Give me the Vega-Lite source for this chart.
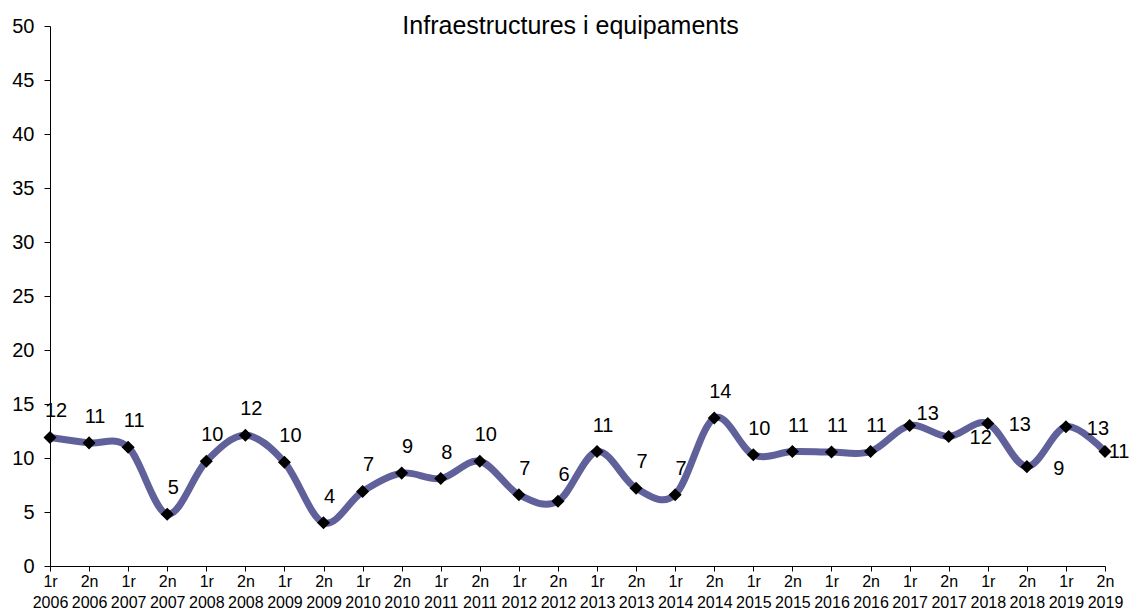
{
  "$schema": "https://vega.github.io/schema/vega-lite/v6.json",
  "width": 1055,
  "height": 540,
  "autosize": {"type": "none"},
  "padding": {"left": 50, "top": 26, "right": 24, "bottom": 44},
  "background": "white",
  "title": {"text": "Infraestructures i equipaments", "fontSize": 25, "font": "Liberation Sans", "fontWeight": "normal", "color": "#000000", "anchor": "middle", "frame": "group", "offset": -11, "dy": 32, "dx": -7, "baseline": "alphabetic"},
  "config": {"view": {"stroke": null}, "font": "Liberation Sans"},
  "data": {"values": [
    {"period": "1r 2006", "value": 11.9},
    {"period": "2n 2006", "value": 11.4},
    {"period": "1r 2007", "value": 11.0},
    {"period": "2n 2007", "value": 4.8},
    {"period": "1r 2008", "value": 9.7},
    {"period": "2n 2008", "value": 12.1},
    {"period": "1r 2009", "value": 9.6},
    {"period": "2n 2009", "value": 4.0},
    {"period": "1r 2010", "value": 6.9},
    {"period": "2n 2010", "value": 8.6},
    {"period": "1r 2011", "value": 8.1},
    {"period": "2n 2011", "value": 9.7},
    {"period": "1r 2012", "value": 6.6},
    {"period": "2n 2012", "value": 6.0},
    {"period": "1r 2013", "value": 10.6},
    {"period": "2n 2013", "value": 7.2},
    {"period": "1r 2014", "value": 6.6},
    {"period": "2n 2014", "value": 13.7},
    {"period": "1r 2015", "value": 10.3},
    {"period": "2n 2015", "value": 10.6},
    {"period": "1r 2016", "value": 10.55},
    {"period": "2n 2016", "value": 10.6},
    {"period": "1r 2017", "value": 13.0},
    {"period": "2n 2017", "value": 12.0},
    {"period": "1r 2018", "value": 13.2},
    {"period": "2n 2018", "value": 9.2},
    {"period": "1r 2019", "value": 12.9},
    {"period": "2n 2019", "value": 10.6}
  ]},
  "encoding": {
    "x": {"field": "period", "type": "ordinal", "sort": null, "scale": {"type": "point", "padding": 0},
      "axis": {"title": null, "labelAngle": 0, "labelExpr": "split(datum.label, ' ')", "labelFontSize": 16, "labelColor": "#000000", "labelLineHeight": 21, "labelPadding": 2, "tickColor": "#000000", "tickSize": 5, "domainColor": "#000000", "labelFont": "Liberation Sans"}},
    "y": {"field": "value", "type": "quantitative", "scale": {"domain": [0, 50], "nice": false, "zero": true},
      "axis": {"title": null, "values": [0, 5, 10, 15, 20, 25, 30, 35, 40, 45, 50], "labelFontSize": 20, "labelColor": "#000000", "tickSize": 6, "labelPadding": 10, "domainColor": "#000000", "tickColor": "#000000", "grid": false, "labelFont": "Liberation Sans"}}
  },
  "layer": [
    {"mark": {"type": "line", "interpolate": "cardinal", "color": "#60609a", "strokeWidth": 7}},
    {"mark": {"type": "point", "shape": "diamond", "filled": true, "color": "#000000", "size": 170, "opacity": 1}},
    {"transform": [{"filter": {"not": {"field": "period", "oneOf": ["1r 2017", "2n 2017", "1r 2018", "2n 2018", "1r 2019", "2n 2019"]}}}],
     "mark": {"type": "text", "fontSize": 20, "color": "#000000", "dx": 6, "dy": -26, "baseline": "middle", "align": "center"},
     "encoding": {"text": {"field": "value", "type": "quantitative", "format": ".0f"}}},
    {"transform": [{"filter": {"field": "period", "oneOf": ["1r 2017"]}}],
     "mark": {"type": "text", "fontSize": 20, "color": "#000000", "dx": 18, "dy": -12, "baseline": "middle", "align": "center"},
     "encoding": {"text": {"field": "value", "type": "quantitative", "format": ".0f"}}},
    {"transform": [{"filter": {"field": "period", "oneOf": ["2n 2017", "1r 2018", "2n 2018", "1r 2019"]}}],
     "mark": {"type": "text", "fontSize": 20, "color": "#000000", "dx": 32, "dy": 2, "baseline": "middle", "align": "center"},
     "encoding": {"text": {"field": "value", "type": "quantitative", "format": ".0f"}}},
    {"transform": [{"filter": {"field": "period", "oneOf": ["2n 2019"]}}],
     "mark": {"type": "text", "fontSize": 20, "color": "#000000", "dx": 14, "dy": 0, "baseline": "middle", "align": "center"},
     "encoding": {"text": {"field": "value", "type": "quantitative", "format": ".0f"}}}
  ]
}
